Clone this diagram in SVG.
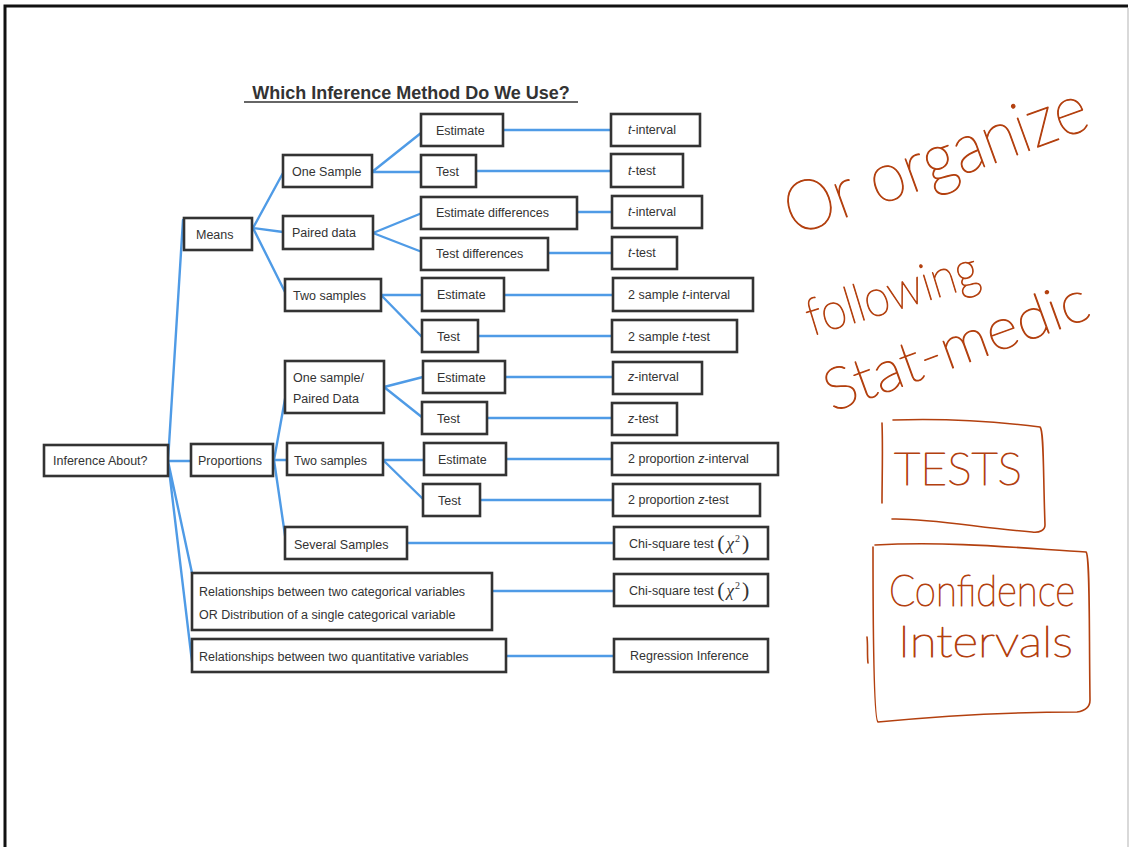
<svg xmlns="http://www.w3.org/2000/svg" width="1129" height="847" viewBox="0 0 1129 847">
<style>
.b{fill:#fff;stroke:#333;stroke-width:2.6}
.t{font-family:"Liberation Sans",Arial,sans-serif;font-size:12.5px;fill:#333}
.c{fill:none;stroke:#4f9be6;stroke-width:2.4;stroke-linecap:round}
.h{fill:none;stroke:#b3400f;stroke-width:1.6;stroke-linecap:round;stroke-linejoin:round}
.hw{font-family:Lato,Inter,"DejaVu Sans",sans-serif;font-weight:200;fill:#b3400f;stroke:#b3400f;stroke-width:1.1;stroke-linejoin:round}
.s{font-family:"Liberation Serif",serif;font-style:italic}
.p{font-family:"Liberation Serif",serif;font-size:22px}
</style>
<rect width="1129" height="847" fill="#fff"/>
<path d="M5 847V6H1128" fill="none" stroke="#111" stroke-width="3"/>
<path d="M1128 8V847" stroke="#ccc" stroke-width="1.5"/>
<text x="411" y="99" text-anchor="middle" font-family="Liberation Sans,Arial,sans-serif" font-size="18" font-weight="bold" fill="#333">Which Inference Method Do We Use?</text>
<line x1="244" y1="102" x2="578" y2="102" stroke="#333" stroke-width="1.5"/>

<g id="connectors">
<path class="c" d="M183 220L168 461M168 461H191M168 461L192 573M168 461L193 670"/>
<path class="c" d="M253 228L283 173M253 228L283 232M253 228L285 292"/>
<path class="c" d="M372 172L421 133M372 172H421M373 233L422 213M373 233L422 252M381 295H422M381 295L422 337"/>
<path class="c" d="M274 460L287 388M274 460H287M274 460L286 542"/>
<path class="c" d="M384 387L423 377M384 387L423 418M383 460H424M383 460L424 500"/>
<path class="c" d="M503 130H611M476 171H611M577 212H612M548 253H612M504 295H613M478 336H612M505 377H613M487 418H612M506 459H612M480 500H613M407 543H614M492 591H614M506 656H614"/>
</g>

<g id="n_inference"><rect class="b" x="44" y="445" width="124" height="31"/><text class="t" x="53" y="465">Inference About?</text></g>
<g id="n_means"><rect class="b" x="184" y="218" width="68" height="32"/><text class="t" x="196" y="239">Means</text></g>
<g id="n_props"><rect class="b" x="191" y="444" width="82" height="32"/><text class="t" x="198" y="465">Proportions</text></g>
<g id="n_onesample"><rect class="b" x="283" y="155" width="89" height="32"/><text class="t" x="292" y="176">One Sample</text></g>
<g id="n_paired"><rect class="b" x="283" y="216" width="90" height="33"/><text class="t" x="292" y="237">Paired data</text></g>
<g id="n_twosamples"><rect class="b" x="285" y="279" width="96" height="32"/><text class="t" x="293" y="300">Two samples</text></g>
<g id="n_onepaired"><rect class="b" x="285" y="361" width="99" height="52"/><text class="t" x="293" y="382">One sample/</text><text class="t" x="293" y="403">Paired Data</text></g>
<g id="n_twoprop"><rect class="b" x="287" y="443" width="96" height="32"/><text class="t" x="294" y="465">Two samples</text></g>
<g id="n_several"><rect class="b" x="285" y="527" width="122" height="32"/><text class="t" x="294" y="549">Several Samples</text></g>
<g id="n_relcat"><rect class="b" x="192" y="573" width="300" height="57"/><text class="t" x="199" y="596">Relationships between two categorical variables</text><text class="t" x="199" y="619">OR Distribution of a single categorical variable</text></g>
<g id="n_relquant"><rect class="b" x="192" y="639" width="314" height="33"/><text class="t" x="199" y="661">Relationships between two quantitative variables</text></g>

<g id="n_e1"><rect class="b" x="421" y="114" width="82" height="32"/><text class="t" x="436" y="135">Estimate</text></g>
<g id="n_t1"><rect class="b" x="421" y="155" width="55" height="32"/><text class="t" x="436" y="176">Test</text></g>
<g id="n_ed"><rect class="b" x="421" y="197" width="156" height="32"/><text class="t" x="436" y="217">Estimate differences</text></g>
<g id="n_td"><rect class="b" x="421" y="238" width="127" height="32"/><text class="t" x="436" y="258">Test differences</text></g>
<g id="n_e2"><rect class="b" x="422" y="278" width="82" height="33"/><text class="t" x="437" y="299">Estimate</text></g>
<g id="n_t2"><rect class="b" x="422" y="320" width="56" height="32"/><text class="t" x="437" y="341">Test</text></g>
<g id="n_e3"><rect class="b" x="423" y="361" width="82" height="32"/><text class="t" x="437" y="382">Estimate</text></g>
<g id="n_t3"><rect class="b" x="422" y="402" width="65" height="32"/><text class="t" x="437" y="423">Test</text></g>
<g id="n_e4"><rect class="b" x="424" y="443" width="82" height="32"/><text class="t" x="438" y="464">Estimate</text></g>
<g id="n_t4"><rect class="b" x="423" y="484" width="57" height="32"/><text class="t" x="438" y="505">Test</text></g>

<g id="n_r1"><rect class="b" x="611" y="114" width="89" height="32"/><text class="t" x="628" y="134"><tspan font-style="italic">t</tspan>-interval</text></g>
<g id="n_r2"><rect class="b" x="611" y="154" width="72" height="33"/><text class="t" x="628" y="175"><tspan font-style="italic">t</tspan>-test</text></g>
<g id="n_r3"><rect class="b" x="612" y="196" width="90" height="32"/><text class="t" x="628" y="216"><tspan font-style="italic">t</tspan>-interval</text></g>
<g id="n_r4"><rect class="b" x="612" y="237" width="65" height="32"/><text class="t" x="628" y="257" fill="#666"><tspan font-style="italic">t</tspan>-test</text></g>
<g id="n_r5"><rect class="b" x="613" y="278" width="140" height="33"/><text class="t" x="628" y="299">2 sample <tspan font-style="italic">t</tspan>-interval</text></g>
<g id="n_r6"><rect class="b" x="612" y="320" width="125" height="32"/><text class="t" x="628" y="341">2 sample <tspan font-style="italic">t</tspan>-test</text></g>
<g id="n_r7"><rect class="b" x="613" y="362" width="89" height="32"/><text class="t" x="628" y="381"><tspan font-style="italic">z</tspan>-interval</text></g>
<g id="n_r8"><rect class="b" x="612" y="403" width="65" height="32"/><text class="t" x="628" y="423"><tspan font-style="italic">z</tspan>-test</text></g>
<g id="n_r9"><rect class="b" x="612" y="443" width="166" height="32"/><text class="t" x="628" y="463">2 proportion <tspan font-style="italic">z</tspan>-interval</text></g>
<g id="n_r10"><rect class="b" x="613" y="484" width="147" height="32"/><text class="t" x="628" y="504">2 proportion <tspan font-style="italic">z</tspan>-test</text></g>
<g id="n_r11"><rect class="b" x="614" y="527" width="154" height="32"/><text class="t" x="629" y="548">Chi-square test <tspan class="p" dy="2">(</tspan><tspan class="s" font-size="17" dx="2" dy="-1">χ</tspan><tspan font-family="Liberation Serif,serif" font-size="10" dx="1" dy="-7">2</tspan><tspan class="p" dx="2" dy="8">)</tspan></text></g>
<g id="n_r12"><rect class="b" x="614" y="574" width="154" height="32"/><text class="t" x="629" y="595">Chi-square test <tspan class="p" dy="2">(</tspan><tspan class="s" font-size="17" dx="2" dy="-1">χ</tspan><tspan font-family="Liberation Serif,serif" font-size="10" dx="1" dy="-7">2</tspan><tspan class="p" dx="2" dy="8">)</tspan></text></g>
<g id="n_r13"><rect class="b" x="614" y="639" width="154" height="33"/><text class="t" x="630" y="660">Regression Inference</text></g>

<g id="handwriting">
<text class="hw" font-size="70" transform="translate(794 236) rotate(-20)" textLength="318" lengthAdjust="spacingAndGlyphs">Or organize</text>
<text class="hw" font-size="52" transform="translate(812 336) rotate(-17)" textLength="178" lengthAdjust="spacingAndGlyphs">following</text>
<text class="hw" font-size="58" transform="translate(832 412) rotate(-20)" textLength="278" lengthAdjust="spacingAndGlyphs">Stat-medic</text>
<path class="h" d="M893 420C950 418 1000 422 1040 427C1044 430 1043 470 1045 525C1045 530 1040 533 1032 532C980 528 930 518 892 519M882 423C883 450 882 480 882 503"/>
<text class="hw" font-size="46" x="894" y="485" textLength="128" lengthAdjust="spacingAndGlyphs">TESTS</text>
<path class="h" d="M875 545C950 541 1020 548 1086 552C1090 555 1089 620 1090 700C1090 708 1084 711 1077 712C1010 712 940 716 878 722C873 720 873 600 873 547M867 637C868 645 867 655 868 663"/>
<text class="hw" font-size="44" x="889" y="606" textLength="186" lengthAdjust="spacingAndGlyphs">Confidence</text>
<text class="hw" font-size="44" x="898" y="657" textLength="175" lengthAdjust="spacingAndGlyphs">Intervals</text>
</g>
</svg>
